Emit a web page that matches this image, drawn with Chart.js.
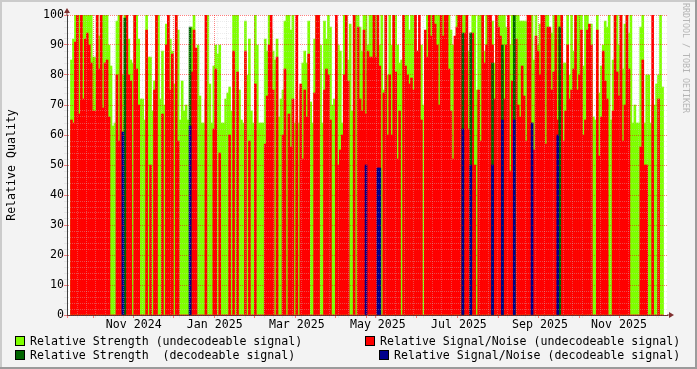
<!DOCTYPE html>
<html>
<head>
<meta charset="utf-8">
<title>Relative Quality</title>
<script src="https://cdn.jsdelivr.net/npm/chart.js@4"></script>
<style>
    html, body { margin: 0; padding: 0; background: #f3f3f3; }
    #wrap { position: relative; width: 697px; height: 369px; overflow: hidden; }
    canvas { position: absolute; left: 0; top: 0; }
    .legend, .mark { position: absolute; font-family: "DejaVu Sans Mono", monospace; white-space: pre; }
    .legend { font-size: 11.6px; line-height: 14px; color: #000; }
    .swatch { position: absolute; width: 8px; height: 8px; border: 1px solid #000; }
    .mark { left: 681px; top: 3px; font-size: 8.3px; color: #b5b5b5; writing-mode: vertical-rl; }
</style>
</head>
<body>
<div id="wrap">
    <canvas id="qualityChart" width="697" height="369"></canvas>
    <div class="mark">RRDTOOL / TOBI OETIKER</div>
    <span class="swatch" style="left:15px;top:336px;background:#7fff00"></span>
    <span class="legend" style="left:30px;top:334px">Relative Strength (undecodeable signal)</span>
    <span class="swatch" style="left:15px;top:350px;background:#006400"></span>
    <span class="legend" style="left:30px;top:348px">Relative Strength  (decodeable signal)</span>
    <span class="swatch" style="left:365px;top:336px;background:#ff0000"></span>
    <span class="legend" style="left:380px;top:334px">Relative Signal/Noise (undecodeable signal)</span>
    <span class="swatch" style="left:379px;top:350px;background:#00008b"></span>
    <span class="legend" style="left:394px;top:348px">Relative Signal/Noise (decodeable signal)</span>
</div>
<script>
// one value per 2px column, left to right
const strengthValues = [
    85,92,100,100,100,100,100,100,100,100, 100,86,86,100,93,100,100,100,100,90,
    83,63,64,98,100,100,80,100,100,92, 85,84,100,100,92,72,72,65,100,86,
    86,68,78,100,100,72,88,70,97,100, 92,88,77,100,95,65,78,68,70,65,
    90,96,100,64,90,73,64,64,72,100, 77,64,83,90,87,90,64,64,72,74,
    76,68,100,100,100,75,65,64,98,80, 92,68,64,100,90,64,64,64,92,88,
    100,95,88,85,92,66,72,75,98,100, 100,95,100,64,65,64,75,84,88,84,
    98,71,64,92,100,100,90,64,98,92, 100,96,70,72,97,90,88,64,100,100,
    85,97,68,100,100,100,96,88,100,100, 90,100,100,100,100,100,90,100,75,100,
    80,100,90,100,100,90,84,85,100,100, 100,95,100,100,100,88,88,90,70,90,
    100,100,100,100,100,100,100,100,100,100, 100,100,95,90,90,100,100,100,100,100,
    100,88,94,100,100,75,100,100,100,88, 100,100,97,98,84,92,100,100,100,100,
    96,96,90,100,100,100,100,98,98,98, 98,100,100,100,85,100,90,97,100,100,
    100,100,95,94,100,100,100,100,100,84, 84,100,80,100,88,100,100,100,100,83,
    100,100,90,97,66,65,100,74,83,90, 98,96,100,65,85,100,100,90,100,82,
    97,100,94,100,64,70,64,64,96,100, 64,80,80,64,70,70,77,80,100,76
];
const noiseValues = [
    65,64,91,100,67,100,72,92,94,90, 84,68,68,100,82,100,69,84,85,66,
    0,0,0,80,58,100,0,65,100,80, 78,0,100,82,70,0,0,0,95,0,
    50,0,75,100,0,0,67,0,90,100, 75,87,0,100,58,0,0,0,0,0,
    0,81,95,89,0,0,0,0,100,0, 0,0,62,82,0,54,0,0,0,0,
    60,0,88,0,81,0,0,0,88,0, 58,0,0,77,0,0,0,0,57,73,
    90,100,75,0,86,0,0,60,82,0, 67,56,72,0,100,0,77,52,75,66,
    87,0,0,74,100,100,0,0,75,82, 80,65,0,0,100,50,55,60,80,100,
    78,0,0,100,0,96,72,68,95,67, 88,86,86,100,86,100,83,0,74,100,
    60,80,60,100,81,52,68,0,100,83, 80,77,79,75,100,88,100,65,0,95,
    86,100,93,100,97,90,70,100,93,100, 100,82,68,52,93,96,100,100,62,94,
    100,62,94,94,50,0,75,58,100,84, 90,100,100,90,72,100,96,93,85,72,
    90,100,48,78,65,92,70,66,83,73, 58,100,100,64,55,93,88,80,100,100,
    57,96,96,75,81,100,65,96,100,58, 68,90,72,75,82,100,75,80,95,60,
    65,95,97,90,0,0,95,53,66,88, 78,72,0,0,68,100,81,73,100,58,
    70,100,82,0,0,0,0,0,56,85, 50,50,0,0,100,0,0,72,0,0
];
// decodeable signal only shows up in a few columns
const decodedStrengthColumns = [27, 60, 198, 202, 213, 218, 224, 247];
const decodedStrengthValues = [99, 96, 94, 94, 84, 90, 100, 96];
const decodedNoiseColumns = [26, 60, 149, 155, 156, 198, 202, 213, 218, 224, 233, 246];
const decodedNoiseValues = [61, 63, 50, 49, 49, 62, 50, 50, 65, 65, 64, 60];

const monthColumns = [0.5, 21.5, 41.5, 62, 82.5, 103, 124, 143.5, 164.5, 185, 205.5, 226.5, 246.5, 267, 287];
const labelColumns = [31.5, 72.5, 114, 155, 196, 237, 277];
const tickLabels = ["Nov 2024", "Jan 2025", "Mar 2025", "May 2025", "Jul 2025", "Sep 2025", "Nov 2025"];
const columnCount = strengthValues.length;

const weekColumns = [];
for (let w = 0.5; w < columnCount; w += 4.73) {
    weekColumns.push(w);
}

const MAJOR_GRID = "rgba(255,0,0,0.5)";
const MINOR_GRID = "rgba(204,204,204,0.35)";

function isMonth(value) {
    return monthColumns.includes(value);
}

function isLabel(value) {
    return labelColumns.includes(value);
}

// frame, white plot area and the two axis arrows
const rrdFrame = {
    id: "rrdFrame",
    beforeDraw(chart) {
        const c = chart.ctx;
        const a = chart.chartArea;
        c.save();
        c.fillStyle = "#f3f3f3";
        c.fillRect(0, 0, chart.width, chart.height);
        c.fillStyle = "#cbcbcb";
        c.fillRect(0, 0, chart.width, 2);
        c.fillRect(0, 0, 2, chart.height);
        c.fillStyle = "#9b9b9b";
        c.fillRect(0, chart.height - 2, chart.width, 2);
        c.fillRect(chart.width - 2, 0, 2, chart.height);
        c.fillStyle = "#ffffff";
        c.fillRect(a.left, a.top, a.width, a.height);
        c.restore();
    },
    afterDraw(chart) {
        const c = chart.ctx;
        const a = chart.chartArea;
        c.save();
        c.fillStyle = "#7f3030";
        c.strokeStyle = "#7f3030";
        c.beginPath();
        c.moveTo(a.left, a.top);
        c.lineTo(a.left, a.top - 3);
        c.moveTo(a.right, a.bottom);
        c.lineTo(a.right + 3, a.bottom);
        c.stroke();
        c.beginPath();
        c.moveTo(a.left - 3, a.top - 2);
        c.lineTo(a.left + 3, a.top - 2);
        c.lineTo(a.left, a.top - 7);
        c.closePath();
        c.fill();
        c.beginPath();
        c.moveTo(a.right + 2, a.bottom - 3);
        c.lineTo(a.right + 2, a.bottom + 3);
        c.lineTo(a.right + 7, a.bottom);
        c.closePath();
        c.fill();
        c.restore();
    }
};

function series(columns, values) {
    return values.map((v, i) => ({ x: columns ? columns[i] : i, y: v }));
}

function barSet(label, data, color) {
    return {
        label: label,
        data: data,
        backgroundColor: color,
        borderWidth: 0,
        grouped: false,
        barPercentage: 1,
        categoryPercentage: 1
    };
}

const monoFont = { family: "'DejaVu Sans Mono', monospace", size: 11.6 };

new Chart(document.getElementById("qualityChart"), {
    type: "bar",
    data: {
        datasets: [
            barSet("Relative Signal/Noise (decodeable signal)", series(decodedNoiseColumns, decodedNoiseValues), "#00008b"),
            barSet("Relative Strength  (decodeable signal)", series(decodedStrengthColumns, decodedStrengthValues), "#006400"),
            barSet("Relative Signal/Noise (undecodeable signal)", series(null, noiseValues), "#ff0000"),
            barSet("Relative Strength (undecodeable signal)", series(null, strengthValues), "#7fff00")
        ]
    },
    plugins: [rrdFrame],
    options: {
        responsive: false,
        animation: false,
        layout: { padding: { top: 15, right: 30, left: 0, bottom: 0 } },
        plugins: { legend: { display: false }, tooltip: { enabled: false } },
        scales: {
            x: {
                type: "linear",
                min: -0.5,
                max: columnCount - 0.5,
                afterFit: (s) => { s.height = 54; },
                afterBuildTicks: (s) => {
                    const all = weekColumns.concat(monthColumns, labelColumns);
                    s.ticks = all.map((v) => ({ value: v }));
                },
                ticks: {
                    autoSkip: false,
                    maxRotation: 0,
                    padding: 0,
                    color: "#000",
                    font: monoFont,
                    callback: (v) => (isLabel(v) ? tickLabels[labelColumns.indexOf(v)] : "")
                },
                border: { color: "#404040", z: 1, dash: [1, 1] },
                grid: {
                    z: 1,
                    tickLength: 3,
                    color: (ctx) => {
                        if (!ctx.tick) return MINOR_GRID;
                        const v = ctx.tick.value;
                        if (isLabel(v)) return "rgba(0,0,0,0)";
                        return isMonth(v) ? MAJOR_GRID : MINOR_GRID;
                    }
                }
            },
            y: {
                min: 0,
                max: 100,
                afterFit: (s) => { s.width = 67; },
                ticks: {
                    stepSize: 2,
                    autoSkip: false,
                    padding: 0,
                    color: "#000",
                    font: monoFont,
                    callback: (v) => (v % 10 === 0 ? String(v) : "")
                },
                title: {
                    display: true,
                    text: "Relative Quality",
                    color: "#000",
                    font: monoFont,
                    padding: { top: 5, bottom: 0 }
                },
                border: { color: "#404040", z: 1, dash: [1, 1] },
                grid: {
                    z: 1,
                    tickLength: 3,
                    color: (ctx) => {
                        if (!ctx.tick) return MINOR_GRID;
                        return ctx.tick.value % 10 === 0 ? MAJOR_GRID : MINOR_GRID;
                    }
                }
            }
        }
    }
});
</script>
</body>
</html>
